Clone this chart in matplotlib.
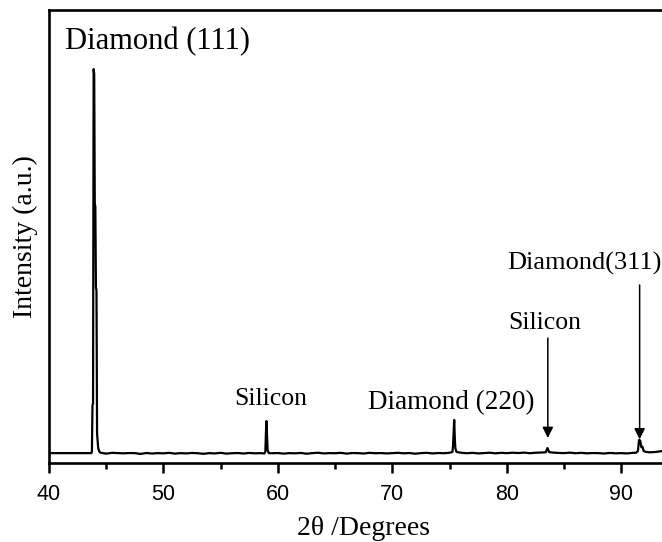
import numpy as np
import matplotlib
matplotlib.use("Agg")
import matplotlib.pyplot as plt
from matplotlib.ticker import MultipleLocator

# XRD scan of the diamond film on Si (Cu K-alpha)
# background points, 0.5 deg step
two_theta_bg = [40.0, 40.5, 41.0, 41.5, 42.0, 42.5, 43.0, 43.5,
                44.5, 45.0, 45.5, 46.0, 46.5, 47.0, 47.5, 48.0, 48.5, 49.0, 49.5,
                50.0, 50.5, 51.0, 51.5, 52.0, 52.5, 53.0, 53.5, 54.0, 54.5,
                55.0, 55.5, 56.0, 56.5, 57.0, 57.5, 58.0, 58.5,
                59.5, 60.0, 60.5, 61.0, 61.5, 62.0, 62.5, 63.0, 63.5, 64.0, 64.5,
                65.0, 65.5, 66.0, 66.5, 67.0, 67.5, 68.0, 68.5, 69.0, 69.5,
                70.0, 70.5, 71.0, 71.5, 72.0, 72.5, 73.0, 73.5, 74.0, 74.5, 75.0,
                76.0, 76.5, 77.0, 77.5, 78.0, 78.5, 79.0, 79.5,
                80.0, 80.5, 81.0, 81.5, 82.0, 82.5, 83.0,
                84.0, 84.5, 85.0, 85.5, 86.0, 86.5, 87.0, 87.5, 88.0, 88.5, 89.0, 89.5,
                90.0, 90.5, 91.0,
                92.5, 93.0, 93.5, 94.0, 95.0]
counts_bg = [100, 100, 100, 100, 100, 100, 100, 101,
             104, 95, 103, 100, 98, 101, 100, 92, 101, 96, 100,
             98, 103, 95, 100, 97, 102, 99, 93, 100, 97,
             103, 95, 99, 101, 96, 102, 98, 100,
             99, 101, 95, 100, 98, 102, 94, 100, 104, 97, 100,
             99, 103, 95, 101, 100, 96, 103, 99, 101, 97,
             100, 103, 98, 101, 94, 100, 103, 97, 101, 99, 104,
             104, 99, 103, 97, 101, 104, 98, 103,
             100, 104, 101, 105, 99, 104, 106,
             106, 102, 100, 105, 99, 103, 98, 101, 100, 96, 102, 98,
             100, 97, 103,
             108, 112, 120, 118, 120]

# peak regions: diamond (111) doublet, Si, diamond (220), Si, diamond (311)
two_theta_pk = [43.7, 43.75, 43.8, 43.85, 43.9, 43.95, 44.0, 44.05, 44.1, 44.15,
                44.2, 44.3, 44.4,
                58.8, 58.9, 58.95, 59.0, 59.05, 59.1, 59.2,
                75.25, 75.3, 75.35, 75.4, 75.45, 75.5, 75.6,
                83.4, 83.55, 83.7,
                91.3, 91.45, 91.55, 91.65, 91.75, 91.85, 91.95, 92.1]
counts_pk = [100, 112, 590, 600, 4000, 3950, 2640, 2600, 1790, 1750,
             300, 150, 115,
             96, 112, 300, 426, 280, 130, 100,
             112, 180, 300, 437, 260, 150, 112,
             109, 152, 110,
             104, 122, 234, 228, 160, 165, 122, 114]

x = np.array(two_theta_bg + two_theta_pk)
y = np.array(counts_bg + counts_pk)
order = np.argsort(x)
x, y = x[order], y[order]

serif = ["Liberation Serif", "DejaVu Serif"]
plt.rcParams["font.family"] = ["Liberation Sans", "DejaVu Sans"]

fig = plt.figure(figsize=(6.62, 5.42), dpi=100)
ax = fig.add_axes([0.074, 0.1458, 0.951, 0.8357])

ax.plot(x, y, color="black", lw=1.6)

ax.set_xlim(40, 95)
ax.set_ylim(0, 4600)
ax.xaxis.set_major_locator(MultipleLocator(10))
ax.xaxis.set_minor_locator(MultipleLocator(5))
ax.tick_params(axis="x", which="major", direction="out", length=7, width=1.8,
               labelsize=15.5, pad=8)
ax.tick_params(axis="x", which="minor", direction="out", length=4, width=1.8)
ax.tick_params(axis="y", left=False, labelleft=False)
for sp in ax.spines.values():
    sp.set_linewidth(1.9)

ax.set_xlabel("2θ /Degrees", family=serif, fontsize=20, labelpad=8)
ax.set_ylabel("Intensity (a.u.)", family=serif, fontsize=20, labelpad=8)

ax.text(41.4, 4275, "Diamond (111)", family=serif, fontsize=22,
        ha="left", va="center")
ax.text(59.4, 650, "Silicon", family=serif, fontsize=18.5,
        ha="center", va="center")
ax.text(75.15, 609, "Diamond (220)", family=serif, fontsize=19.5,
        ha="center", va="center")
ax.text(83.3, 1422, "Silicon", family=serif, fontsize=18.5,
        ha="center", va="center")
ax.text(80.0, 2031, "Diamond(311)", family=serif, fontsize=19,
        ha="left", va="center")

arrow = dict(arrowstyle="-|>", color="black", lw=1.1, mutation_scale=16,
             shrinkA=0, shrinkB=0)
ax.annotate("", xy=(83.58, 254), xytext=(83.58, 1269), arrowprops=arrow)
ax.annotate("", xy=(91.6, 240), xytext=(91.6, 1807), arrowprops=arrow)

fig.savefig("out.png", dpi=100)
